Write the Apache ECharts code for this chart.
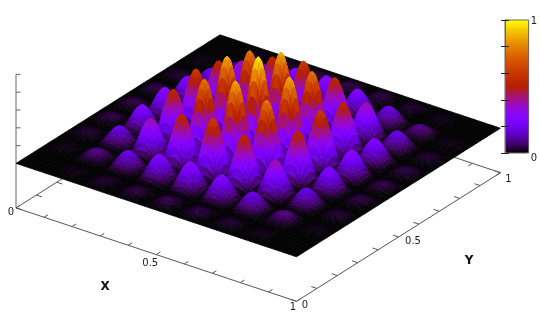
<!DOCTYPE html>
<html><head><meta charset="utf-8">
<style>html,body{margin:0;padding:0;background:#fff}#c{width:540px;height:325px;filter:blur(.5px)}</style>
<script src="https://cdn.jsdelivr.net/npm/echarts@6/dist/echarts.min.js"></script>
</head><body><div id="c"></div>
<script>
// Height profile along X (samples from x=0 to x=1)
const xProfile = [
0,.004,.011,.019,.027,.034,.040,.044,.045,.044,.040,.034,.027,.019,.011,.004,
0,.026,.071,.125,.179,.227,.266,.292,.30,.292,.266,.227,.179,.125,.071,.026,
0,.054,.149,.261,.375,.478,.559,.612,.63,.612,.559,.478,.375,.261,.149,.054,
0,.077,.211,.369,.530,.675,.790,.865,.89,.865,.790,.675,.530,.369,.211,.077,
0,.086,.237,.415,.595,.758,.888,.972,1,.972,.888,.758,.595,.415,.237,.086,
0,.077,.211,.369,.530,.675,.790,.865,.89,.865,.790,.675,.530,.369,.211,.077,
0,.054,.149,.261,.375,.478,.559,.612,.63,.612,.559,.478,.375,.261,.149,.054,
0,.026,.071,.125,.179,.227,.266,.292,.30,.292,.266,.227,.179,.125,.071,.026,
0,.004,.011,.019,.027,.034,.040,.044,.045,.044,.040,.034,.027,.019,.011,.004,
0];
// Height profile along Y (samples from y=0 to y=1)
const yProfile = [
0,.004,.011,.019,.027,.034,.040,.044,.045,.044,.040,.034,.027,.019,.011,.004,
0,.026,.071,.125,.179,.227,.266,.292,.30,.292,.266,.227,.179,.125,.071,.026,
0,.054,.149,.261,.375,.478,.559,.612,.63,.612,.559,.478,.375,.261,.149,.054,
0,.077,.211,.369,.530,.675,.790,.865,.89,.865,.790,.675,.530,.369,.211,.077,
0,.086,.237,.415,.595,.758,.888,.972,1,.972,.888,.758,.595,.415,.237,.086,
0,.077,.211,.369,.530,.675,.790,.865,.89,.865,.790,.675,.530,.369,.211,.077,
0,.054,.149,.261,.375,.478,.559,.612,.63,.612,.559,.478,.375,.261,.149,.054,
0,.026,.071,.125,.179,.227,.266,.292,.30,.292,.266,.227,.179,.125,.071,.026,
0,.004,.011,.019,.027,.034,.040,.044,.045,.044,.040,.034,.027,.019,.011,.004,
0];
const xTicks = [0,.1,.2,.3,.4,.5,.6,.7,.8,.9,1];
const yTicks = [0,.1,.2,.3,.4,.5,.6,.7,.8,.9,1];
const zTicks = [0,.2,.4,.6,.8,1];
const palette = ['#000000','#400062','#5a00b4','#6e02ec','#8004ff','#8f08ec','#9c0db4','#a91562','#b42000','#bf2d00','#ca3e00','#d35300','#dd6c00','#e68900','#efab00','#f7d200','#ffff00'];
const axisLabels = [
  {p:[0,0],off:[-5,5],text:'0'},{p:[.5,0],off:[-6,9],text:'0.5'},{p:[1,0],off:[-3.5,6],text:'1'},
  {p:[1,0],off:[8.5,4],text:'0'},{p:[1,.5],off:[14.5,4],text:'0.5'},{p:[1,1],off:[8,7],text:'1'},
  {p:[.5,0],off:[-51,32],text:'X',bold:true},{p:[1,.5],off:[70.5,24],text:'Y',bold:true}
];

// Oblique view of the gnuplot box (pixels per data unit)
const view = {ox:16, oy:163.4, xx:280.5, xy:93.4, yx:204, yy:-128.6, zy:-89, floor:-0.5};
const project = (x,y,z)=>[view.ox+view.xx*x+view.yx*y, view.oy+view.xy*x+view.yy*y+view.zy*z];

const nx = xProfile.length-1, ny = yProfile.length-1;
const cell = [];
for (let j=ny-1;j>=0;j--) for (let i=0;i<nx;i++) {
  const mean=(xProfile[i]*yProfile[j]+xProfile[i+1]*yProfile[j]+xProfile[i]*yProfile[j+1]+xProfile[i+1]*yProfile[j+1])/4;
  cell.push([i,j,mean]);
}
const F = view.floor, tick = .02, axisCol='#555';
const segs = [
  {a:[0,0,F],b:[1,0,F]},{a:[1,0,F],b:[1,1,F]},{a:[0,0,F],b:[0,1,F]},{a:[0,1,F],b:[1,1,F]},
  {a:[0,0,F],b:[0,0,1],c:'#666'}
];
xTicks.forEach(t=>{segs.push({a:[t,0,F],b:[t,tick,F]});segs.push({a:[t,1,F],b:[t,1-tick,F]});});
yTicks.forEach(t=>{segs.push({a:[1,t,F],b:[1-tick,t,F]});segs.push({a:[0,t,F],b:[tick,t,F]});});
zTicks.forEach(t=>segs.push({a:[0,0,t],b:[0,0,t],off:[4.5,0],c:'#666'}));

const chart = echarts.init(document.getElementById('c'),null,{renderer:'canvas'});
chart.setOption({
  animation:false,
  backgroundColor:'#fff',
  tooltip:{show:false},
  grid:[
    {left:0,top:0,width:540,height:325,show:false},
    {left:505,top:20,width:24,height:133,show:true,backgroundColor:'transparent',borderColor:'#666',borderWidth:1,z:10}
  ],
  xAxis:[
    {type:'value',min:0,max:540,show:false,gridIndex:0},
    {type:'value',min:0,max:1,show:false,gridIndex:1}
  ],
  yAxis:[
    {type:'value',min:0,max:325,inverse:true,show:false,gridIndex:0},
    {type:'value',min:0,max:1,interval:.2,gridIndex:1,position:'right',z:11,splitLine:{show:false},
     axisLine:{show:true,lineStyle:{color:'#666'}},axisTick:{show:true,inside:true,length:4,lineStyle:{color:'#222'}},
     axisLabel:{margin:2,fontFamily:'DejaVu Sans',fontSize:10,color:'#222',verticalAlignMinLabel:'top',
       rich:{top:{padding:[3,0,0,0],fontFamily:'DejaVu Sans',fontSize:10,color:'#222'}},
       formatter:v=>v===1?'{top|1}':(v===0?'0':'')}},
    {type:'value',min:0,max:1,interval:.2,gridIndex:1,position:'left',z:11,splitLine:{show:false},
     axisLine:{show:true,lineStyle:{color:'#666'}},axisTick:{show:true,inside:true,length:4,lineStyle:{color:'#222'}},
     axisLabel:{show:false}}
  ],
  visualMap:{type:'continuous',seriesIndex:1,dimension:2,min:0,max:1,left:505,top:20,padding:0,itemWidth:24,itemHeight:133,
    calculable:false,realtime:false,text:null,showLabel:false,inRange:{color:palette},hoverLink:false,z:4},
  series:[
    {type:'custom',coordinateSystem:'cartesian2d',xAxisIndex:0,yAxisIndex:0,z:1,silent:true,
     data:segs.map((s,i)=>[i]),encode:{x:-1,y:-1},
     renderItem:(p,api)=>{
       const s=segs[p.dataIndex], A=api.coord(project(...s.a)), B=api.coord(project(...s.b));
       if(s.off){B[0]+=s.off[0];B[1]+=s.off[1];}
       return {type:'line',shape:{x1:A[0],y1:A[1],x2:B[0],y2:B[1]},style:{stroke:s.c||axisCol,lineWidth:1}};
     }},
    {type:'custom',coordinateSystem:'cartesian2d',xAxisIndex:0,yAxisIndex:0,z:2,silent:true,progressive:0,
     data:cell,encode:{x:0,y:1},
     renderItem:(p,api)=>{
       const i=api.value(0), j=api.value(1), col=api.visual('color');
       const pts=[[i,j],[i+1,j],[i+1,j+1],[i,j+1]].map(c=>api.coord(project(c[0]/nx,c[1]/ny,xProfile[c[0]]*yProfile[c[1]])));
       return {type:'polygon',shape:{points:pts},style:{fill:col,stroke:col,lineWidth:.6}};
     }},
    {type:'custom',coordinateSystem:'cartesian2d',xAxisIndex:0,yAxisIndex:0,z:3,silent:true,
     data:axisLabels.map((s,i)=>[i]),encode:{x:-1,y:-1},
     renderItem:(p,api)=>{
       const s=axisLabels[p.dataIndex], A=api.coord(project(s.p[0],s.p[1],F));
       return {type:'text',x:A[0]+s.off[0],y:A[1]+s.off[1],style:{text:s.text,fill:s.bold?'#111':'#222',
         font:(s.bold?'bold 12px':'10px')+' "DejaVu Sans"',align:'center',verticalAlign:'middle'}};
     }}
  ]
});
</script></body></html>
